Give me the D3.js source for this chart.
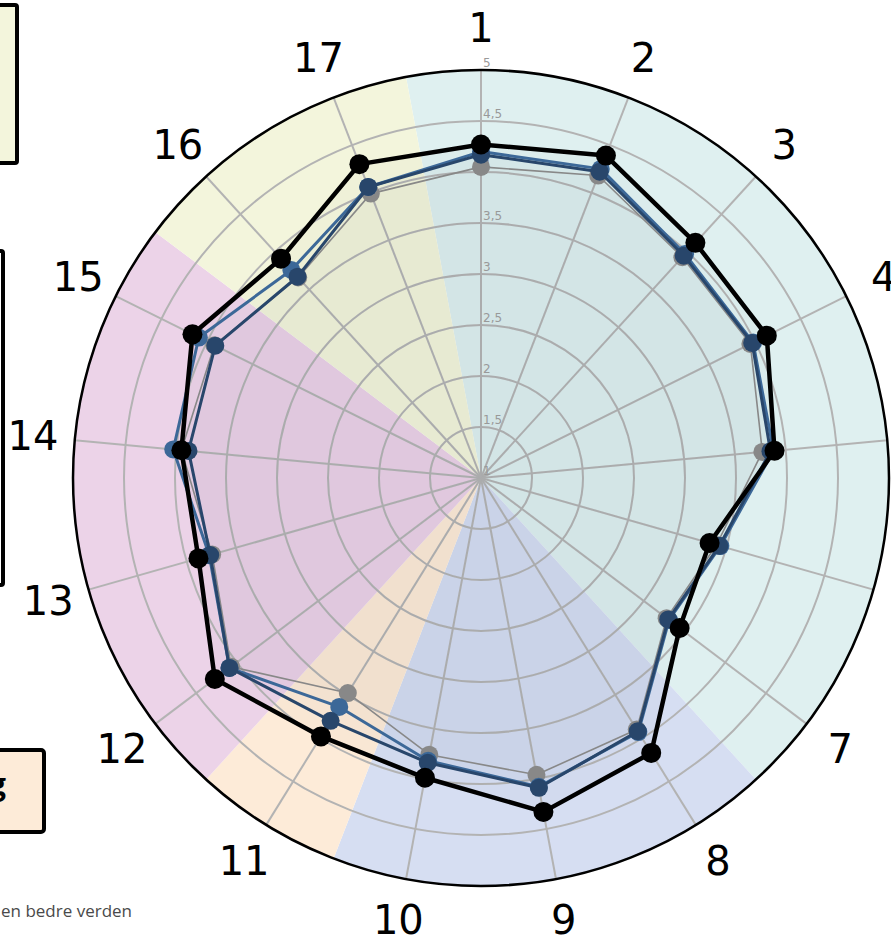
<!DOCTYPE html>
<html><head><meta charset="utf-8">
<script src="https://cdn.jsdelivr.net/npm/d3@7"></script>
<style>html,body{margin:0;padding:0;background:#fff;overflow:hidden}svg{display:block}</style>
</head><body>
<svg id="chart" width="891" height="936"></svg>
<script>
const axes = ["1","2","3","4","5","6","7","8","9","10","11","12","13","14","15","16","17"];
const ticks = [1, 1.5, 2, 2.5, 3, 3.5, 4, 4.5, 5];
const tickLabels = ["1","1,5","2","2,5","3","3,5","4","4,5","5"];
const groupFirst = [1, 8, 11, 12, 16];
const groupLast  = [7, 10, 11, 15, 17];
const seriesGray  = [4.05, 4.18, 3.93, 3.95, 3.77, 3.40, 3.28, 3.90, 3.96, 3.76, 3.48, 4.07, 3.74, 3.95, 3.92, 3.66, 3.99];
const seriesMid   = [4.20, 4.25, 3.97, 3.98, 3.88, 3.44, 3.31, 3.93, 4.08, 3.82, 3.64, 4.09, 3.77, 4.03, 4.09, 3.76, 4.06];
const seriesDark  = [4.17, 4.22, 3.95, 3.97, 3.85, 3.43, 3.30, 3.92, 4.09, 3.84, 3.80, 4.09, 3.76, 3.88, 3.91, 3.67, 4.06];
const seriesBlack = [4.27, 4.39, 4.12, 4.13, 3.89, 3.33, 3.44, 4.17, 4.33, 3.99, 3.98, 4.27, 3.88, 3.95, 4.16, 3.91, 4.30];

const groupColors = ["#dff0f0", "#d6def2", "#fdebd8", "#ecd3e8", "#f3f5dc"];
const seriesList = [
  {values: seriesGray,  color: "#888888", width: 1.6, r: 9},
  {values: seriesMid,   color: "#3c6898", width: 3,   r: 9},
  {values: seriesDark,  color: "#28466b", width: 3,   r: 9},
  {values: seriesBlack, color: "#000000", width: 4.5, r: 10}
];

const svg = d3.select("#chart");
const cx = 481, cy = 478, R = 408;
const rScale = d3.scaleLinear().domain([1, 5]).range([0, R]);
const step = 2 * Math.PI / axes.length;
const aScale = d3.scaleLinear().domain([0, axes.length]).range([0, 2 * Math.PI]);

// left-side legend boxes (cut off)
svg.append("rect").attr("x", -30).attr("y", 5).attr("width", 47).attr("height", 158)
  .attr("fill", "#f3f5dc").attr("stroke", "#000").attr("stroke-width", 4).attr("rx", 2);
svg.append("rect").attr("x", -100).attr("y", 251).attr("width", 103).attr("height", 334)
  .attr("fill", "#fff").attr("stroke", "#000").attr("stroke-width", 4).attr("rx", 2);
svg.append("rect").attr("x", -60).attr("y", 750).attr("width", 104).attr("height", 82)
  .attr("fill", "#fdebd8").attr("stroke", "#000").attr("stroke-width", 4).attr("rx", 3);
svg.append("text").attr("x", 6).attr("y", 795).attr("text-anchor", "end")
  .attr("font-family", "Open Sans, sans-serif").attr("font-weight", "bold").attr("font-size", 30).text("g");
svg.append("text").attr("x", 1).attr("y", 917)
  .attr("font-family", "Open Sans, sans-serif").attr("font-size", 17).attr("fill", "#4a4a4a").text("en bedre verden");

const g = svg.append("g").attr("transform", `translate(${cx},${cy})`);

// group sectors
const arc = d3.arc().innerRadius(0).outerRadius(R);
groupFirst.forEach((f, i) => {
  g.append("path")
    .attr("d", arc({startAngle: aScale(f - 1) - step / 2, endAngle: aScale(groupLast[i] - 1) + step / 2}))
    .attr("fill", groupColors[i]);
});

// grid rings
g.selectAll("circle.ring").data(ticks.slice(1, -1)).join("circle")
  .attr("r", d => rScale(d)).attr("fill", "none").attr("stroke", "#b3b3b3").attr("stroke-width", 2);

// spokes
g.selectAll("line.spoke").data(axes).join("line")
  .attr("x1", 0).attr("y1", 0)
  .attr("x2", (d, i) => R * Math.sin(aScale(i)))
  .attr("y2", (d, i) => -R * Math.cos(aScale(i)))
  .attr("stroke", "#b3b3b3").attr("stroke-width", 2);

// series fills
const line = d3.lineRadial()
  .angle((d, i) => aScale(i))
  .radius(d => rScale(d))
  .curve(d3.curveLinearClosed);
seriesList.forEach(s => {
  g.append("path").attr("d", line(s.values)).attr("fill", s.color).attr("fill-opacity", 0.016).attr("stroke", "none");
});

// tick labels
g.selectAll("text.tick").data(ticks).join("text")
  .attr("x", 2).attr("y", d => -rScale(d) - 3)
  .attr("font-family", "DejaVu Sans, sans-serif").attr("font-size", 12).attr("fill", "#999")
  .text((d, i) => tickLabels[i]);

// outer circle
g.append("circle").attr("r", R).attr("fill", "none").attr("stroke", "#000").attr("stroke-width", 2.5);

// series lines and markers
seriesList.forEach(s => {
  g.append("path").attr("d", line(s.values)).attr("fill", "none")
    .attr("stroke", s.color).attr("stroke-width", s.width).attr("stroke-linejoin", "round");
  g.selectAll(null).data(s.values).join("circle")
    .attr("cx", (d, i) => rScale(d) * Math.sin(aScale(i)))
    .attr("cy", (d, i) => -rScale(d) * Math.cos(aScale(i)))
    .attr("r", s.r).attr("fill", s.color);
});

// axis labels
g.selectAll("text.axis").data(axes).join("text")
  .attr("x", (d, i) => 450 * Math.sin(aScale(i)))
  .attr("y", (d, i) => -450 * Math.cos(aScale(i)))
  .attr("text-anchor", "middle").attr("dominant-baseline", "central")
  .attr("font-family", "DejaVu Sans, sans-serif").attr("font-size", 40).attr("fill", "#000")
  .text(d => d);
</script>
</body></html>
